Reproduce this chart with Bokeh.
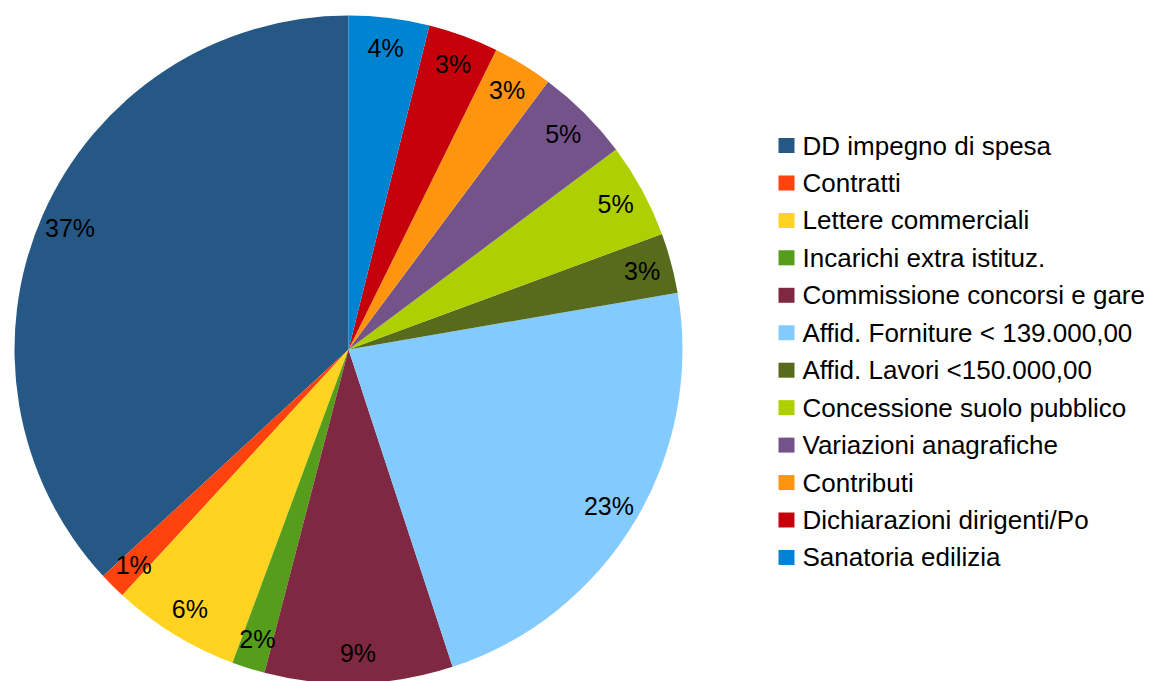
import math
from bokeh.plotting import figure
from bokeh.models import Range1d, ColumnDataSource
from bokeh.core.properties import value
from bokeh.embed import file_html
from bokeh.resources import INLINE

# ---- data (slice order: counter-clockwise from 12 o'clock, same as legend order)
categories = [
    "DD impegno di spesa",
    "Contratti",
    "Lettere commerciali",
    "Incarichi extra istituz.",
    "Commissione concorsi e gare",
    "Affid. Forniture < 139.000,00",
    "Affid. Lavori <150.000,00",
    "Concessione suolo pubblico",
    "Variazioni anagrafiche",
    "Contributi",
    "Dichiarazioni dirigenti/Po",
    "Sanatoria edilizia",
]
shares = [36.9, 1.3, 6.2, 1.6, 9.1, 22.7, 2.9, 4.6, 4.6, 2.9, 3.4, 3.9]
colors = [
    "#265886", "#ff420e", "#ffd320", "#579d1c", "#7f2841", "#83caff",
    "#586a1c", "#aecf00", "#735389", "#ff950e", "#c5000b", "#0084d1",
]

# ---- layout constants
W, H = 1149, 681
CX, CY, R = 348, H - 349, 334
LABEL_R = 0.91 * R
FONT = "Liberation Sans"
LEG_X = 778          # left of legend squares (px)
LEG_TOP = 145        # centre of first legend row, from top (px)
LEG_PITCH = 37.45
SQ_W, SQ_H = 16, 15

total = sum(shares)
starts, ends, lx, ly, pct = [], [], [], [], []
acc = 0.0
for v in shares:
    a0 = math.pi / 2 + 2 * math.pi * acc / total
    acc += v
    a1 = math.pi / 2 + 2 * math.pi * acc / total
    starts.append(a0)
    ends.append(a1)
    mid = (a0 + a1) / 2
    lx.append(CX + LABEL_R * math.cos(mid))
    ly.append(CY + LABEL_R * math.sin(mid))
    pct.append(f"{round(v / total * 100)}%")

src = ColumnDataSource(dict(cat=categories, val=shares, color=colors,
                            start=starts, end=ends, lx=lx, ly=ly, pct=pct))

p = figure(width=W, height=H, x_range=Range1d(0, W), y_range=Range1d(0, H),
           x_axis_type=None, y_axis_type=None, toolbar_location=None,
           output_backend="svg", min_border=0)
p.outline_line_color = None
p.background_fill_color = "white"
p.border_fill_color = "white"
p.xgrid.visible = False
p.ygrid.visible = False

p.wedge(x=CX, y=CY, radius=R, start_angle="start", end_angle="end",
        direction="anticlock", fill_color="color", line_color=None, source=src)

p.text(x="lx", y="ly", text="pct", source=src, text_align="center",
       text_baseline="middle", text_font=value(FONT), text_font_size="25px",
       text_color="#000000")

# ---- legend
n = len(categories)
leg = ColumnDataSource(dict(
    cat=categories, color=colors,
    sx=[LEG_X + SQ_W / 2] * n,
    tx=[LEG_X + SQ_W + 8] * n,
    y=[H - (LEG_TOP + i * LEG_PITCH) for i in range(n)],
))
p.rect(x="sx", y="y", width=SQ_W, height=SQ_H, fill_color="color",
       line_color=None, source=leg)
p.text(x="tx", y="y", text="cat", source=leg, text_align="left",
       text_baseline="middle", text_font=value(FONT), text_font_size="26px",
       text_color="#000000")

open("out.html", "w").write(file_html(p, INLINE))
